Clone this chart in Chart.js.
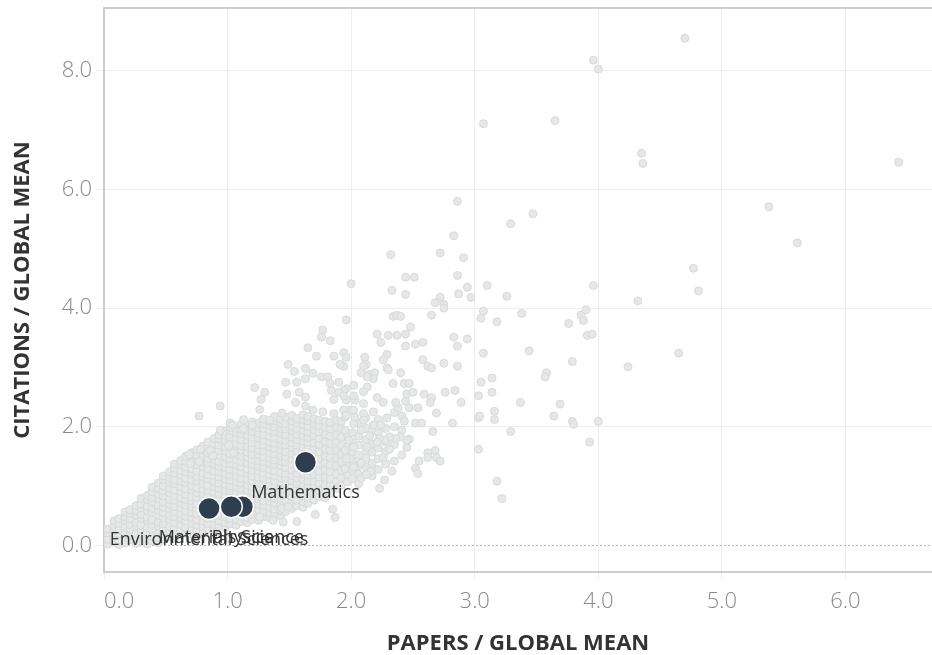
<!DOCTYPE html>
<html><head><meta charset="utf-8">
<style>html,body{margin:0;padding:0;background:#fff}#wrap{width:932px;height:655px}</style>
<script src="https://cdn.jsdelivr.net/npm/chart.js@4.4.1/dist/chart.umd.min.js"></script>
</head><body><div id="wrap"><canvas id="c" width="932" height="655"></canvas></div>
<script>
// ---- data ----
const xAxisTitle = 'PAPERS / GLOBAL MEAN';
const yAxisTitle = 'CITATIONS / GLOBAL MEAN';
const xTickValues = [0, 1, 2, 3, 4, 5, 6];
const xTickLabels = ['0.0', '1.0', '2.0', '3.0', '4.0', '5.0', '6.0'];
const yTickValues = [0, 2, 4, 6, 8];
const yTickLabels = ['0.0', '2.0', '4.0', '6.0', '8.0'];
const X_MIN = 0, X_MAX = 6.7, Y_MIN = -0.45, Y_MAX = 9.06;

// highlighted fields
const fieldNames = ['Mathematics', 'Physics', 'Materials Science', 'Environmental Sciences'];
const fieldPapers = [1.63, 1.12, 1.03, 0.85];
const fieldCitations = [1.40, 0.65, 0.65, 0.62];

// all other fields: scattered points [papers, citations]
const scatterPoints = [
 [4.70,8.55],[3.96,8.18],[4.00,8.03],[3.65,7.16],[3.07,7.11],[4.35,6.61],[4.36,6.44],[6.43,6.46],[5.38,5.71],[5.61,5.10],
 [2.86,5.80],[3.47,5.59],[3.29,5.42],[2.83,5.22],[4.77,4.67],[4.81,4.29],[4.32,4.12],[4.65,3.24],[4.24,3.01],[3.96,4.38],
 [4.00,2.09],[3.93,1.74],
 [2.32,4.90],[2.72,4.93],[2.91,4.85],[2.44,4.52],[2.51,4.52],[2.86,4.55],[2.00,4.41],[2.33,4.30],[2.44,4.23],[2.94,4.35],
 [2.87,4.24],[2.97,4.18],[3.10,4.38],[3.26,4.20],[2.72,4.18],[2.68,4.09],[2.75,4.06],[2.75,4.00],[1.96,3.80],[2.34,3.86],
 [2.37,3.88],[2.40,3.86],[2.65,3.88],[2.48,3.68],[3.07,3.95],[3.05,3.83],[3.18,3.77],[3.38,3.91],[3.76,3.74],[3.86,3.88],
 [3.90,3.97],[3.88,3.79],[3.91,3.54],[3.95,3.56],[2.21,3.56],[2.30,3.54],[2.37,3.54],[2.44,3.56],[2.24,3.42],[2.44,3.36],
 [2.52,3.39],[2.58,3.42],[2.83,3.51],[2.86,3.36],[2.94,3.48],[3.07,3.24],[3.44,3.28],[3.79,3.10],[2.29,3.22],[2.26,3.13],
 [2.11,3.17],[1.94,3.25],[1.96,3.17],[1.94,3.02],[2.12,3.05],[2.10,3.02],[2.58,3.13],[2.62,3.02],[2.65,2.99],[2.75,3.07],
 [2.86,3.02],[2.29,2.99],[2.30,2.96],[2.40,2.91],[2.08,2.91],[2.14,2.88],[2.19,2.91],[3.58,2.91],[3.57,2.84],
 [3.05,2.75],[3.14,2.82],[3.03,2.52],[3.14,2.58],[3.37,2.41],[3.69,2.38],[3.64,2.18],[3.79,2.09],[3.80,2.04],[3.16,2.26],
 [3.16,2.12],[3.03,2.15],[3.04,2.18],[3.29,1.92],[3.03,1.62],[3.18,1.08],[3.22,0.79],[2.84,2.61],[2.76,2.58],[2.89,2.41],
 [2.59,2.55],[2.65,2.49],[2.64,2.41],[2.69,2.23],[2.82,2.06],[2.66,1.92],[2.52,2.06],[2.57,2.06],[2.43,2.09],[2.54,2.32],
 [2.47,2.32],[2.38,2.32],[2.36,2.41],[2.44,2.43],[2.45,2.55],[2.50,2.58],[2.34,2.73],[2.43,2.73],[2.47,2.73],[2.47,1.79],
 [2.45,1.65],[2.68,1.60],[2.62,1.56],[2.69,1.48],[2.72,1.42],[2.62,1.48],[2.55,1.42],[2.52,1.30],[2.54,1.21],[2.26,1.48],
 [2.33,1.25],[2.27,1.10],[2.23,0.96],[2.16,1.25],[2.08,1.13],[2.12,1.19],[2.08,1.39],[2.31,1.62],[2.45,1.77],[2.29,2.15],
 [2.24,2.03],[2.18,2.03],[2.21,2.49],[2.26,2.41],[2.40,1.83],[2.36,1.80],[2.31,1.83],[2.27,1.77],[2.23,1.80],[2.18,2.81],
 [2.13,2.84],[2.13,2.67],[2.10,2.59],[2.02,2.70],[1.96,2.64],[2.03,2.45],[2.10,2.39],[1.99,2.28],[2.10,2.22],[2.18,2.25],
 [2.02,2.05],[1.95,1.94],[2.08,1.94],[2.15,1.85],[2.21,1.74],[2.13,1.66],[2.02,1.66],[1.99,1.46],[2.02,1.32],[1.95,1.29],
 [1.94,2.61],[1.96,2.45],[1.94,2.28],[1.95,2.16],[2.03,2.16],[2.10,2.11],[1.98,1.77],[1.95,1.60],[1.96,1.46],
 [1.77,3.63],[1.76,3.51],[1.83,3.45],[1.65,3.33],[1.72,3.19],[1.86,3.19],[1.91,3.05],[1.49,3.05],[1.54,2.93],[1.63,2.98],
 [1.69,2.90],[1.63,2.81],[1.47,2.75],[1.56,2.75],[1.76,2.84],[1.81,2.84],[1.83,2.73],[1.90,2.75],[1.22,2.66],[1.30,2.58],
 [1.27,2.46],[1.48,2.55],[1.58,2.58],[1.63,2.50],[1.55,2.41],[1.63,2.35],[1.84,2.61],[1.90,2.58],[1.86,2.46],[1.94,2.52],
 [2.02,2.52],[1.26,2.29],[0.94,2.35],[0.77,2.18],[1.44,2.23],[0.94,1.94],[1.02,2.06],[1.04,2.03],[1.13,2.12],[1.20,2.03],
 [1.13,1.97],[1.34,2.11],[1.69,2.28],[1.77,2.25],[1.86,2.22],[1.96,2.19],[2.02,2.28],
 [0.69,1.53],[0.78,1.62],[0.77,1.41],[0.70,1.38],[0.86,1.60],[0.88,1.51],[1.01,1.68],[1.05,1.56],
 [1.85,0.61],[1.87,0.47],[1.71,0.52],[1.45,0.39],[1.56,0.40],[1.26,0.48],[1.37,0.42],[1.44,0.62],[1.49,0.65]
];

// dense cloud, read column by column: [papers, [citations...]]
const cloudColumns = [
 [0.03,[0.02,0.1,0.21,0.27]],
 [0.08,[0.05,0.15,0.22,0.33,0.41]],
 [0.12,[0.01,0.09,0.2,0.26,0.37,0.45]],
 [0.17,[0.04,0.14,0.2,0.31,0.42,0.48,0.56]],
 [0.21,[0.09,0.17,0.27,0.35,0.45,0.54,0.6]],
 [0.26,[0.03,0.13,0.2,0.32,0.38,0.5,0.58,0.67]],
 [0.30,[0.07,0.18,0.25,0.34,0.46,0.52,0.63,0.7,0.79]],
 [0.35,[0.02,0.11,0.22,0.29,0.41,0.47,0.59,0.66,0.77,0.84]],
 [0.39,[0.08,0.15,0.27,0.35,0.43,0.55,0.62,0.73,0.8,0.9,0.98]],
 [0.44,[0.04,0.13,0.2,0.32,0.39,0.51,0.59,0.67,0.79,0.86,0.96,1.05]],
 [0.48,[0.1,0.19,0.28,0.36,0.47,0.55,0.64,0.73,0.83,0.92,1.0,1.11,1.17]],
 [0.53,[0.14,0.24,0.31,0.43,0.5,0.61,0.69,0.77,0.89,0.96,1.07,1.14,1.24]],
 [0.57,[0.11,0.21,0.29,0.38,0.48,0.57,0.65,0.76,0.84,0.93,1.04,1.11,1.22,1.3,1.37]],
 [0.62,[0.17,0.26,0.35,0.45,0.53,0.63,0.72,0.8,0.91,0.99,1.08,1.19,1.26,1.36,1.43]],
 [0.66,[0.21,0.3,0.41,0.49,0.58,0.68,0.77,0.86,0.95,1.06,1.13,1.24,1.32,1.42,1.5]],
 [0.71,[0.19,0.28,0.37,0.47,0.55,0.65,0.75,0.82,0.93,1.01,1.1,1.21,1.29,1.39,1.46,1.56]],
 [0.75,[0.25,0.35,0.43,0.53,0.62,0.7,0.81,0.89,0.97,1.08,1.16,1.25,1.36,1.44,1.52,1.61]],
 [0.80,[0.22,0.31,0.41,0.5,0.58,0.69,0.77,0.87,0.95,1.04,1.15,1.22,1.33,1.41,1.5,1.6,1.67]],
 [0.84,[0.28,0.37,0.46,0.56,0.65,0.73,0.84,0.92,1.01,1.12,1.19,1.29,1.39,1.47,1.56,1.67,1.74]],
 [0.89,[0.26,0.35,0.45,0.52,0.63,0.71,0.8,0.9,0.99,1.08,1.18,1.26,1.37,1.45,1.53,1.64,1.72,1.8]],
 [0.93,[0.32,0.41,0.5,0.6,0.68,0.78,0.87,0.96,1.05,1.15,1.24,1.33,1.41,1.52,1.6,1.69,1.8,1.86]],
 [0.98,[0.3,0.38,0.48,0.57,0.65,0.76,0.84,0.93,1.03,1.12,1.21,1.31,1.39,1.49,1.59,1.67,1.76,1.86,1.92]],
 [1.02,[0.36,0.45,0.54,0.64,0.73,0.82,0.92,1.0,1.1,1.19,1.28,1.38,1.46,1.55,1.66,1.74,1.83,1.93,1.99]],
 [1.07,[0.34,0.43,0.52,0.61,0.71,0.79,0.88,0.99,1.07,1.16,1.26,1.35,1.44,1.54,1.62,1.71,1.82,1.9,1.97]],
 [1.11,[0.4,0.49,0.59,0.67,0.77,0.86,0.95,1.05,1.13,1.23,1.33,1.41,1.5,1.61,1.68,1.78,1.88,1.96,2.04]],
 [1.16,[0.38,0.47,0.56,0.66,0.74,0.83,0.93,1.02,1.11,1.21,1.29,1.39,1.49,1.57,1.66,1.77,1.85,1.94,2.02]],
 [1.20,[0.44,0.53,0.63,0.71,0.8,0.9,0.99,1.09,1.17,1.27,1.37,1.45,1.54,1.64,1.73,1.82,1.92,2.0,2.08]],
 [1.25,[0.42,0.51,0.6,0.7,0.78,0.87,0.97,1.06,1.15,1.25,1.33,1.43,1.53,1.61,1.7,1.81,1.89,1.98,2.06]],
 [1.29,[0.48,0.57,0.67,0.75,0.85,0.94,1.03,1.13,1.22,1.31,1.41,1.49,1.59,1.69,1.77,1.86,1.97,2.05,2.13]],
 [1.34,[0.46,0.55,0.64,0.74,0.82,0.91,1.01,1.11,1.19,1.28,1.38,1.47,1.56,1.66,1.74,1.84,1.94,2.02,2.09]],
 [1.38,[0.52,0.61,0.71,0.8,0.89,0.98,1.08,1.17,1.26,1.36,1.44,1.54,1.64,1.72,1.81,1.92,2.0,2.1,2.17]],
 [1.43,[0.5,0.59,0.68,0.78,0.86,0.96,1.06,1.14,1.23,1.34,1.42,1.51,1.61,1.7,1.79,1.89,1.97,2.06,2.13]],
 [1.47,[0.57,0.67,0.75,0.85,0.94,1.03,1.13,1.21,1.31,1.41,1.49,1.58,1.69,1.77,1.86,1.96,2.05,2.16]],
 [1.52,[0.62,0.71,0.82,0.9,0.99,1.09,1.18,1.27,1.37,1.45,1.55,1.65,1.73,1.82,1.93,2.01,2.1,2.19]],
 [1.56,[0.67,0.76,0.86,0.94,1.04,1.14,1.22,1.31,1.42,1.5,1.59,1.69,1.78,1.87,1.97,2.06,2.14]],
 [1.61,[0.64,0.74,0.83,0.93,1.01,1.11,1.21,1.29,1.38,1.49,1.57,1.66,1.76,1.85,1.94,2.04,2.12,2.2]],
 [1.65,[0.71,0.8,0.9,0.99,1.08,1.18,1.26,1.36,1.46,1.54,1.63,1.74,1.82,1.91,2.01,2.1,2.17]],
 [1.70,[0.76,0.87,0.97,1.08,1.2,1.3,1.4,1.52,1.62,1.73,1.85,1.95,2.05,2.13]],
 [1.74,[0.82,0.93,1.05,1.15,1.25,1.37,1.47,1.58,1.7,1.8,1.91,2.02,2.11]],
 [1.79,[0.8,0.91,1.02,1.14,1.27,1.39,1.5,1.63,1.75,1.87,1.99,2.09]],
 [1.83,[0.88,1.0,1.12,1.24,1.35,1.48,1.6,1.72,1.84,1.96,2.07]],
 [1.88,[0.95,1.08,1.2,1.34,1.47,1.6,1.73,1.86,1.99,2.11]],
 [1.92,[1.01,1.14,1.27,1.41,1.54,1.68,1.82,1.97,2.09]],
 [1.97,[1.07,1.2,1.36,1.51,1.66,1.87]],
 [2.01,[1.12,1.27,1.42,1.57,1.74,1.9]],
 [2.06,[1.04,1.2,1.34,1.52,1.69,1.84,2.06]],
 [2.12,[1.32,1.47,1.6,1.78,1.97,2.15]],
 [2.17,[1.17,1.38,1.57,1.71,1.94]],
 [2.22,[1.28,1.46,1.64,1.9,2.12]],
 [2.28,[1.37,1.58,1.74,1.97]],
 [2.35,[1.42,1.7,2.0,2.24]],
 [2.41,[1.52,1.94,2.18]]
];

// ---- build datasets ----
const LABEL_OFFSET = 31;
const grayData = [];
cloudColumns.forEach(([px, ys]) => ys.forEach(py => grayData.push({x: px, y: py})));
scatterPoints.forEach(([px, py]) => grayData.push({x: px, y: py}));
const fieldData = fieldNames.map((n, i) => ({x: fieldPapers[i], y: fieldCitations[i]}));

const decorPlugin = {
  id: 'decor',
  beforeDatasetsDraw(chart) {
    const {ctx, chartArea: a, scales: {y}} = chart;
    ctx.save();
    ctx.strokeStyle = '#cccccc'; ctx.lineWidth = 2;
    ctx.beginPath(); ctx.moveTo(a.left - 1, a.top); ctx.lineTo(a.right, a.top); ctx.stroke();
    const y0 = Math.round(y.getPixelForValue(0)) + 0.5;
    ctx.strokeStyle = '#b5b5b5'; ctx.lineWidth = 1; ctx.setLineDash([2, 2]);
    ctx.beginPath(); ctx.moveTo(a.left, y0); ctx.lineTo(a.right, y0); ctx.stroke();
    ctx.restore();
  },
  afterDatasetsDraw(chart) {
    const {ctx, scales: {x, y}} = chart;
    ctx.save();
    ctx.font = '400 18px "Open Sans"';
    ctx.fillStyle = '#333333';
    ctx.textAlign = 'center'; ctx.textBaseline = 'middle';
    for (let i = fieldNames.length - 1; i >= 0; i--) {
      ctx.fillText(fieldNames[i], x.getPixelForValue(fieldPapers[i]), y.getPixelForValue(fieldCitations[i]) + LABEL_OFFSET);
    }
    ctx.restore();
  }
};

const tickFont = {family: '"Open Sans"', size: 22, weight: '300'};
const titleFont = {family: '"Open Sans"', size: 22, weight: '700', lineHeight: 1};

new Chart(document.getElementById('c'), {
  type: 'scatter',
  data: {
    datasets: [
      { label: 'Fields', data: fieldData, backgroundColor: '#2c3e50', borderColor: '#ffffff', borderWidth: 1.5, pointRadius: 11 },
      { label: 'All', data: grayData, backgroundColor: '#e6e7e7', borderColor: '#d8dada', borderWidth: 1, pointRadius: 4 }
    ]
  },
  options: {
    responsive: false, animation: false, devicePixelRatio: 1, events: [],
    layout: {autoPadding: false, padding: {top: 8, left: 0, right: 0, bottom: 0}},
    plugins: {legend: {display: false}, tooltip: {enabled: false}},
    scales: {
      x: {
        type: 'linear', min: X_MIN, max: X_MAX,
        afterBuildTicks: s => { s.ticks = xTickValues.map(v => ({value: v})).concat([{value: X_MAX}]); },
        afterFit: s => { s.height = 83; s.paddingLeft = 0; s.paddingRight = 0; },
        ticks: { align: 'inner', font: tickFont, color: '#8a8a8a', padding: 9, maxRotation: 0, autoSkip: false,
                 callback: (v, i) => xTickLabels[i] !== undefined ? xTickLabels[i] : '' },
        grid: { color: c => (c.tick && c.tick.value !== X_MAX) ? '#eeeeee' : 'rgba(0,0,0,0)', tickLength: 8, lineWidth: 1 },
        border: { color: '#cccccc', width: 2 },
        title: { display: true, text: xAxisTitle, font: titleFont, color: '#333333', padding: {top: 0, bottom: 0} }
      },
      y: {
        type: 'linear', min: Y_MIN, max: Y_MAX,
        afterBuildTicks: s => { s.ticks = yTickValues.map(v => ({value: v})); },
        afterFit: s => { s.width = 104; s.paddingTop = 0; s.paddingBottom = 0; },
        ticks: { font: tickFont, color: '#8a8a8a', padding: 4, autoSkip: false,
                 callback: (v, i) => yTickLabels[i] },
        grid: { color: c => (c.tick && c.tick.value !== 0) ? '#eeeeee' : 'rgba(0,0,0,0)', tickColor: '#eeeeee', tickLength: 8, lineWidth: 1 },
        border: { color: '#cccccc', width: 2 },
        title: { display: true, text: yAxisTitle, font: titleFont, color: '#333333', padding: {top: 12, bottom: 0} }
      }
    }
  },
  plugins: [decorPlugin]
});
</script>
</body></html>
